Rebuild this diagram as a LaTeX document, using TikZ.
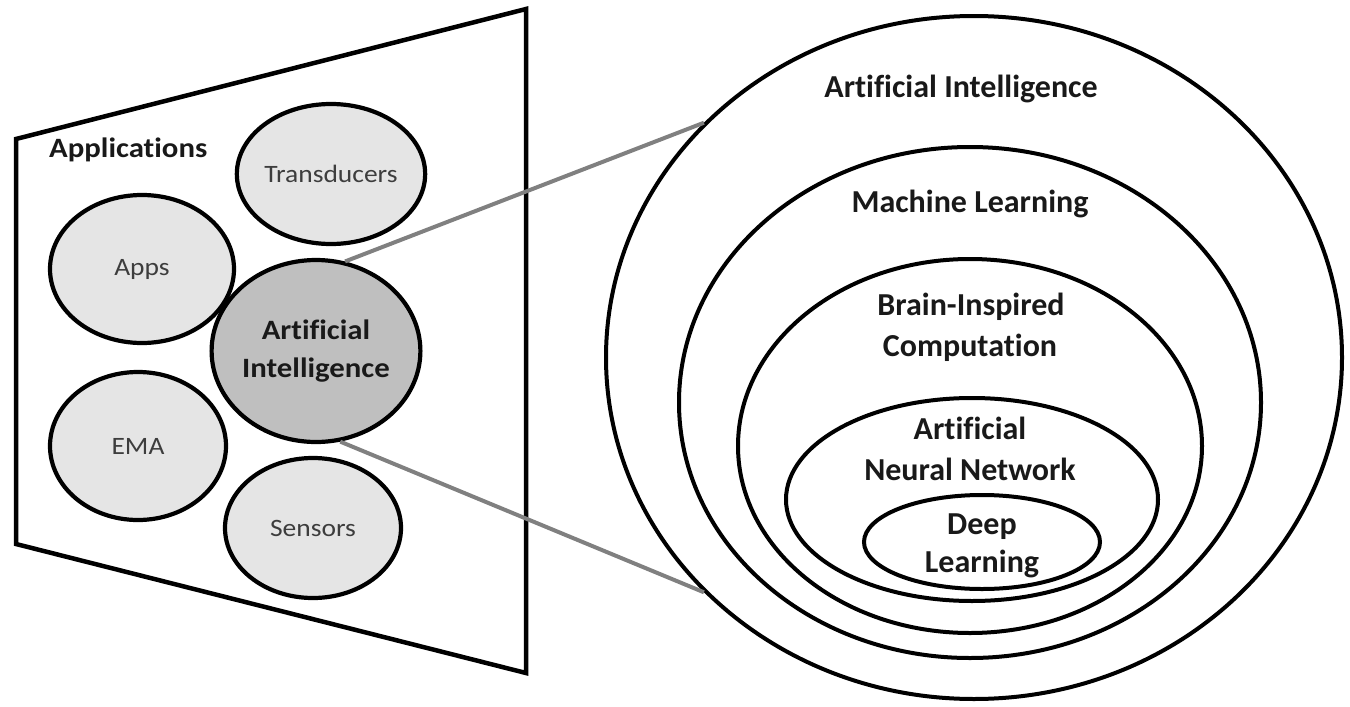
\documentclass[tikz,border=0pt]{standalone}
\usepackage{fontspec}
\setmainfont{Carlito}[Ligatures=NoCommon]
\newfontfamily\widefont[FakeStretch=1.1,Ligatures=NoCommon]{Carlito}
\usetikzlibrary{shapes.geometric}

\definecolor{appgray}{gray}{0.90}
\definecolor{aigray}{gray}{0.75}
\definecolor{linegray}{gray}{0.50}
\definecolor{labelgray}{gray}{0.24}
\definecolor{textblack}{gray}{0.10}

\tikzset{
  app/.style={ellipse, draw=black, line width=4.2pt, fill=appgray, inner sep=0pt,
    font=\widefont\fontsize{25}{30}\selectfont, text=labelgray},
  core/.style={ellipse, draw=black, line width=4.2pt, fill=aigray, inner sep=0pt,
    align=center, font=\widefont\bfseries\fontsize{28}{38}\selectfont, text=textblack},
  ring/.style={ellipse, draw=black, line width=4pt, inner sep=0pt},
  ringlabel/.style={anchor=base, inner sep=0pt, text=textblack,
    font=\bfseries\fontsize{32}{38}\selectfont},
  zoomline/.style={draw=linegray, line width=4pt},
}

\begin{document}
\begin{tikzpicture}[x=1pt, y=-1pt]
  \useasboundingbox (0,0) rectangle (1350,707);

  % application panel
  \draw[line width=4.5pt, line join=miter]
    (16,139) -- (526,9) -- (526,673) -- (16,544) -- cycle;
  \node[anchor=base west, inner sep=0pt, text=textblack,
        font=\widefont\bfseries\fontsize{28}{34}\selectfont] (apptitle) at (49,157) {Applications};

  \node[app, minimum width=172pt, minimum height=140pt] (trans) at (331,174) {Transducers};
  \node[app, minimum width=184pt, minimum height=148pt] (apps)  at (142,269) {Apps};
  \node[app, minimum width=176pt, minimum height=148pt] (ema)   at (138,446) {EMA};
  \node[app, minimum width=176pt, minimum height=140pt] (sens)  at (313,528) {Sensors};
  \node[core, minimum width=208pt, minimum height=182pt] (aiL)  at (316,351) {Artificial\\Intelligence};

  % nested fields
  \node[ring, minimum width=736pt, minimum height=683pt] (outer) at (974,357.5) {};
  \node[ring, minimum width=582pt, minimum height=511pt] (ml)    at (970,402.5) {};
  \node[ring, minimum width=464pt, minimum height=374pt] (bic)   at (970,446) {};
  \node[ring, minimum width=372pt, minimum height=203pt] (ann)   at (972,499.5) {};
  \node[ring, minimum width=236pt, minimum height=94pt]  (dl)    at (982,542) {};

  \node[ringlabel] (tAI)   at (961,97)  {Artificial Intelligence};
  \node[ringlabel] (tML)   at (970,212) {Machine Learning};
  \node[ringlabel] (tBIa)  at (971,315) {Brain-Inspired};
  \node[ringlabel] (tBIb)  at (970,356) {Computation};
  \node[ringlabel] (tANa)  at (970,439) {Artificial};
  \node[ringlabel] (tANb)  at (970,480) {Neural Network};
  \node[ringlabel] (tDLa)  at (982,534) {Deep};
  \node[ringlabel] (tDLb)  at (982,572) {Learning};

  % zoom connectors
  \draw[zoomline] (aiL.72.5) -- (outer.139.1);
  \draw[zoomline] (aiL.285.6) -- (outer.221.1);
\end{tikzpicture}
\end{document}
